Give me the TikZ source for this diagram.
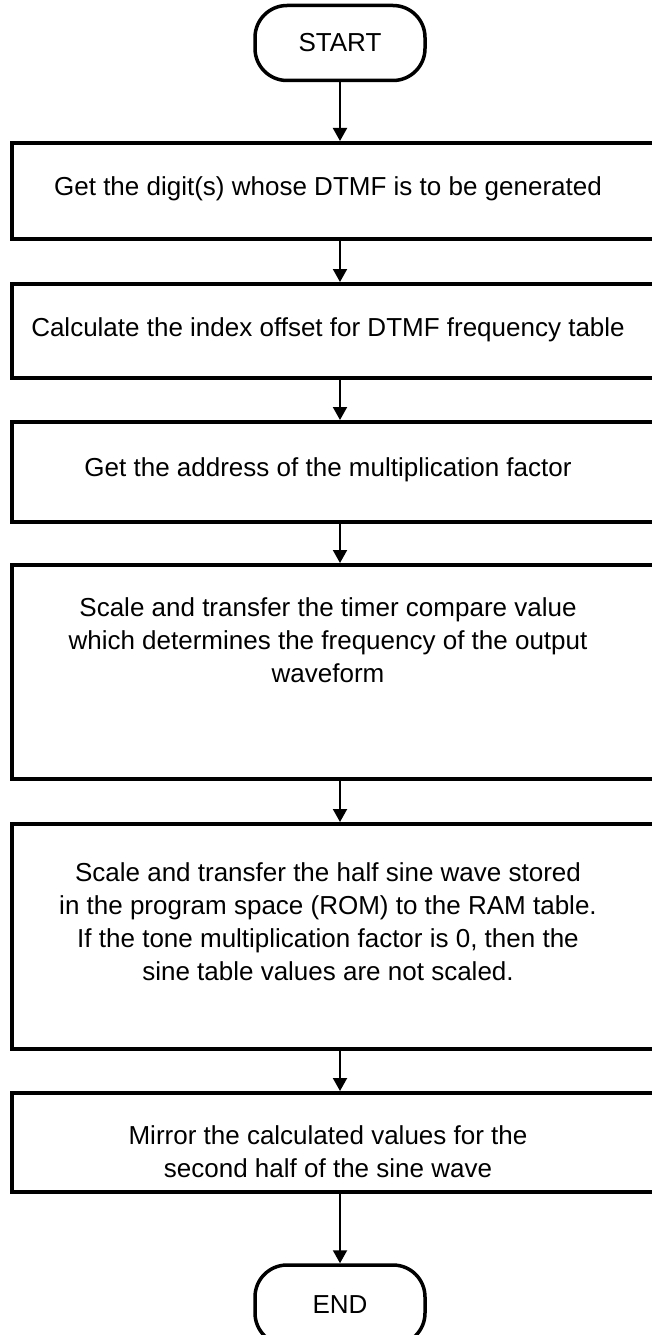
\documentclass[tikz,border=0pt]{standalone}
\usepackage{fontspec}
\setmainfont{Liberation Sans}
\usetikzlibrary{arrows.meta}
\tikzset{
  boxnode/.style={draw=black, line width=4pt, minimum width=656pt, inner sep=0pt, anchor=north},
  txt/.style={align=center, font=\fontsize{26}{33}\selectfont, inner sep=0pt},
  term/.style={draw=black, line width=3.5pt, rounded corners=32pt, minimum width=170pt, minimum height=75pt, font=\fontsize{26}{30}\selectfont, inner sep=0pt},
  arr/.style={line width=2pt, -{Triangle[width=14pt,length=13pt]}}
}
\begin{document}
\begin{tikzpicture}[x=1pt,y=-1pt]
\useasboundingbox (0,0) rectangle (652,1335);
\clip (0,0) rectangle (652,1335);
\node[term] (start) at (340,43) {START};
\node[boxnode, minimum height=96pt] (b1) at (340,141) {};
\node[txt] (t1) at (328,189) {Get the digit(s) whose DTMF is to be generated};
\node[boxnode, minimum height=94pt] (b2) at (340,282) {};
\node[txt] (t2) at (328,330) {Calculate the index offset for DTMF frequency table};
\node[boxnode, minimum height=100pt] (b3) at (340,420) {};
\node[txt] (t3) at (328,470) {Get the address of the multiplication factor};
\node[boxnode, minimum height=214pt] (b4) at (340,563) {};
\node[txt, anchor=north] (t4) at (328,597) {Scale and transfer the timer compare value\\which determines the frequency of the output\\waveform};
\node[boxnode, minimum height=225pt] (b5) at (340,822) {};
\node[txt, anchor=north] (t5) at (328,862) {Scale and transfer the half sine wave stored\\in the program space (ROM) to the RAM table.\\If the tone multiplication factor is 0, then the\\sine table values are not scaled.};
\node[boxnode, minimum height=99pt] (b6) at (340,1091) {};
\node[txt, anchor=north] (t6) at (328,1125) {Mirror the calculated values for the\\second half of the sine wave};
\node[term, minimum height=80pt] (end) at (340,1305) {END};
\draw[arr] (start.south) -- (b1.north);
\draw[arr] (b1.south) -- (b2.north);
\draw[arr] (b2.south) -- (b3.north);
\draw[arr] (b3.south) -- (b4.north);
\draw[arr] (b4.south) -- (b5.north);
\draw[arr] (b5.south) -- (b6.north);
\draw[arr] (b6.south) -- (end.north);
\end{tikzpicture}
\end{document}
